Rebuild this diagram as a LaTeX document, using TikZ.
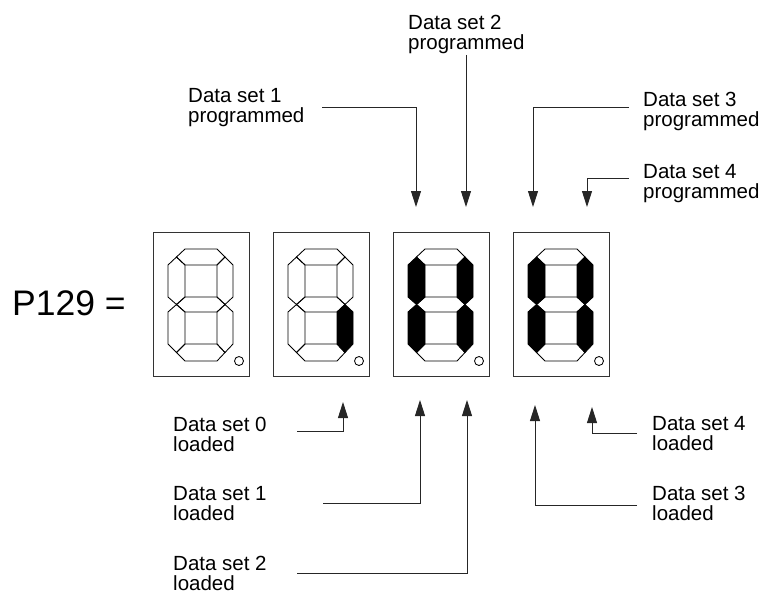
\documentclass[tikz,border=0pt]{standalone}
\usepackage{fontspec}
\setmainfont{Liberation Sans}
\usetikzlibrary{arrows.meta}
\newcommand\sevseg[8]{%
  \begin{scope}[shift={(#1,0)}]
    \path[#2] (23.5,257)--(32,249)--(64,249)--(72,257)--(64,265)--(32,265)--cycle;
    \path[#3] (23.5,257)--(32,265)--(32,297)--(23.5,304.5)--(15,297)--(15,265)--cycle;
    \path[#4] (72,257)--(80,265)--(80,297)--(72,304.5)--(64,297)--(64,265)--cycle;
    \path[#5] (23.5,304.5)--(32,297)--(64,297)--(72,304.5)--(64,312)--(32,312)--cycle;
    \path[#6] (23.5,304.5)--(32,312)--(32,344)--(23.5,352.5)--(15,344)--(15,312)--cycle;
    \path[#7] (72,304.5)--(80,312)--(80,344)--(72,352.5)--(64,344)--(64,312)--cycle;
    \path[#8] (23.5,352.5)--(32,344)--(64,344)--(72,352.5)--(64,361)--(32,361)--cycle;
    \draw[seg] (86,361) circle[radius=4.5pt];
  \end{scope}}
\begin{document}
\begin{tikzpicture}[x=1pt,y=-1pt,
  lbl/.style={anchor=north west, inner sep=0pt, align=left, font=\fontsize{20.5}{20}\selectfont},
  conn/.style={line width=0.9pt, draw=black!85, -{Triangle[length=16pt,width=10pt]}},
  seg/.style={draw=black, line width=0.85pt, line join=miter},
  on/.style={seg, fill=black},
  dbox/.style={draw=black!80, line width=0.9pt, minimum width=96pt, minimum height=144pt, inner sep=0pt, anchor=north west}]
\useasboundingbox (0,0) rectangle (762,594);

% title
\node[anchor=base west, inner sep=0pt, font=\fontsize{35.5}{40}\selectfont] (p) at (12,315) {P129 =};

% digit boxes
\node[dbox] (d1) at (153,232) {};
\node[dbox] (d2) at (273,232) {};
\node[dbox] (d3) at (393,232) {};
\node[dbox] (d4) at (513,232) {};
\sevseg{153}{seg}{seg}{seg}{seg}{seg}{seg}{seg}
\sevseg{273}{seg}{seg}{seg}{seg}{seg}{on}{seg}
\sevseg{393}{seg}{on}{on}{seg}{on}{on}{seg}
\sevseg{513}{seg}{on}{on}{seg}{on}{on}{seg}

% labels
\node[lbl] (p1) at (188,88) {Data set 1\\programmed};
\node[lbl] (p2) at (408,15) {Data set 2\\programmed};
\node[lbl] (p3) at (643,92) {Data set 3\\programmed};
\node[lbl] (p4) at (643,164) {Data set 4\\programmed};
\node[lbl] (l0) at (173,417) {Data set 0\\loaded};
\node[lbl] (l1) at (173,486) {Data set 1\\loaded};
\node[lbl] (l2) at (173,556) {Data set 2\\loaded};
\node[lbl] (l4) at (652,416) {Data set 4\\loaded};
\node[lbl] (l3) at (652,486) {Data set 3\\loaded};

% connector ends
\coordinate (sp1) at (322,107);  \coordinate (tp1) at (416,207);
\coordinate (sp2) at (466,55);   \coordinate (tp2) at (466,207);
\coordinate (sp3) at (629,107);  \coordinate (tp3) at (533,207);
\coordinate (sp4) at (629,178);  \coordinate (tp4) at (587,207);
\coordinate (sl0) at (297,431);  \coordinate (tl0) at (343,402);
\coordinate (sl1) at (323,503);  \coordinate (tl1) at (420,400);
\coordinate (sl2) at (297,573);  \coordinate (tl2) at (467,400);
\coordinate (sl3) at (637,505);  \coordinate (tl3) at (535,405);
\coordinate (sl4) at (637,433);  \coordinate (tl4) at (592,407);

\draw[conn] (sp1) -| (tp1);
\draw[conn] (sp2) -- (tp2);
\draw[conn] (sp3) -| (tp3);
\draw[conn] (sp4) -| (tp4);
\draw[conn] (sl0) -| (tl0);
\draw[conn] (sl1) -| (tl1);
\draw[conn] (sl2) -| (tl2);
\draw[conn] (sl3) -| (tl3);
\draw[conn] (sl4) -| (tl4);
\end{tikzpicture}
\end{document}
